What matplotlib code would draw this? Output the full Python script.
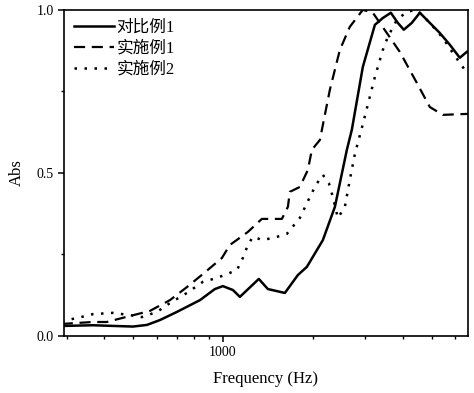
import matplotlib
matplotlib.use('Agg')
import matplotlib.pyplot as plt
from matplotlib.ticker import FixedLocator, NullFormatter, FixedFormatter

plt.rcParams['font.family'] = ['Liberation Serif', 'Noto Sans CJK SC']

# 对比例1 (solid)
freq_c1 = [296, 367, 500, 557, 616, 702, 838, 940, 1000, 1080, 1140, 1319, 1414, 1612,
           1782, 1910, 2160, 2370, 2599, 2700, 2939, 3225, 3429, 3647, 3848, 4030, 4286,
           4560, 4924, 5318, 5744, 6203, 6548]
abs_c1 = [0.031, 0.033, 0.029, 0.034, 0.049, 0.074, 0.110, 0.144, 0.153, 0.141, 0.120,
          0.175, 0.144, 0.132, 0.187, 0.212, 0.294, 0.396, 0.571, 0.632, 0.825, 0.954,
          0.975, 0.991, 0.960, 0.939, 0.960, 0.991, 0.960, 0.929, 0.893, 0.853, 0.871]

# 实施例1 (dashed)
freq_e1 = [289, 367, 409, 446, 570, 665, 758, 857, 992, 1055, 1212, 1350, 1575, 1650,
           1675, 1809, 1924, 1985, 2111, 2280, 2462, 2659, 2939, 3175, 3536, 3908, 4455,
           4924, 5443, 6598]
abs_e1 = [0.037, 0.043, 0.043, 0.052, 0.077, 0.110, 0.150, 0.190, 0.239, 0.279, 0.319,
          0.359, 0.359, 0.396, 0.442, 0.457, 0.509, 0.571, 0.601, 0.755, 0.877, 0.948,
          1.0, 0.991, 0.929, 0.871, 0.776, 0.702, 0.678, 0.681]

# 实施例2 (dotted)
freq_e2 = [289, 325, 367, 429, 489, 536, 602, 665, 758, 857, 955, 1114, 1166, 1212, 1260,
           1360, 1516, 1637, 1809, 1954, 2047, 2160, 2262, 2333, 2425, 2559, 2659, 2764,
           2917, 3225, 3429, 3564, 3818, 4124, 4455, 4924, 5443, 5878, 6548]
abs_e2 = [0.046, 0.055, 0.067, 0.071, 0.064, 0.058, 0.074, 0.101, 0.132, 0.166, 0.178,
          0.202, 0.239, 0.279, 0.304, 0.294, 0.304, 0.313, 0.362, 0.426, 0.463, 0.494,
          0.469, 0.426, 0.362, 0.396, 0.479, 0.558, 0.638, 0.794, 0.877, 0.917, 0.969,
          0.994, 1.0, 0.960, 0.914, 0.868, 0.807]

labels = ['对比例1', '实施例1', '实施例2']

fig = plt.figure(figsize=(4.74, 3.93), dpi=100)
ax = fig.add_axes([0.135, 0.145, 0.852, 0.830])

ax.plot(freq_c1, abs_c1, color='black', lw=1.8, linestyle='-', label=labels[0],
        solid_joinstyle='round')
ax.plot(freq_e1, abs_e1, color='black', lw=1.6, linestyle=(0, (5, 3)), label=labels[1])
ax.plot(freq_e2, abs_e2, color='black', lw=1.8, linestyle=(0, (1, 3)), label=labels[2])

ax.set_xscale('log')
ax.set_xlim(294, 6600)
ax.set_ylim(0, 1.0)

ax.xaxis.set_major_locator(FixedLocator([1000]))
ax.xaxis.set_major_formatter(FixedFormatter(['1000']))
ax.xaxis.set_minor_locator(FixedLocator([300, 400, 500, 600, 700, 800, 900,
                                         2000, 3000, 4000, 5000, 6000]))
ax.xaxis.set_minor_formatter(NullFormatter())
ax.yaxis.set_major_locator(FixedLocator([0.0, 0.5, 1.0]))
ax.yaxis.set_major_formatter(FixedFormatter(['0.0', '0.5', '1.0']))
ax.yaxis.set_minor_locator(FixedLocator([0.25, 0.75]))

ax.tick_params(which='major', direction='out', length=4, width=1.1, labelsize=10)
ax.tick_params(which='minor', direction='out', length=2.5, width=1.0)
for s in ax.spines.values():
    s.set_linewidth(1.2)

ax.set_xlabel('Frequency (Hz)', fontsize=12, labelpad=8)
ax.set_ylabel('Abs', fontsize=12, labelpad=8)

ax.legend(loc='upper left', frameon=False, fontsize=12, handlelength=2.4,
          handletextpad=0.15, labelspacing=0.3, borderaxespad=0.3, borderpad=0.3)

fig.savefig('out.png', dpi=100)
